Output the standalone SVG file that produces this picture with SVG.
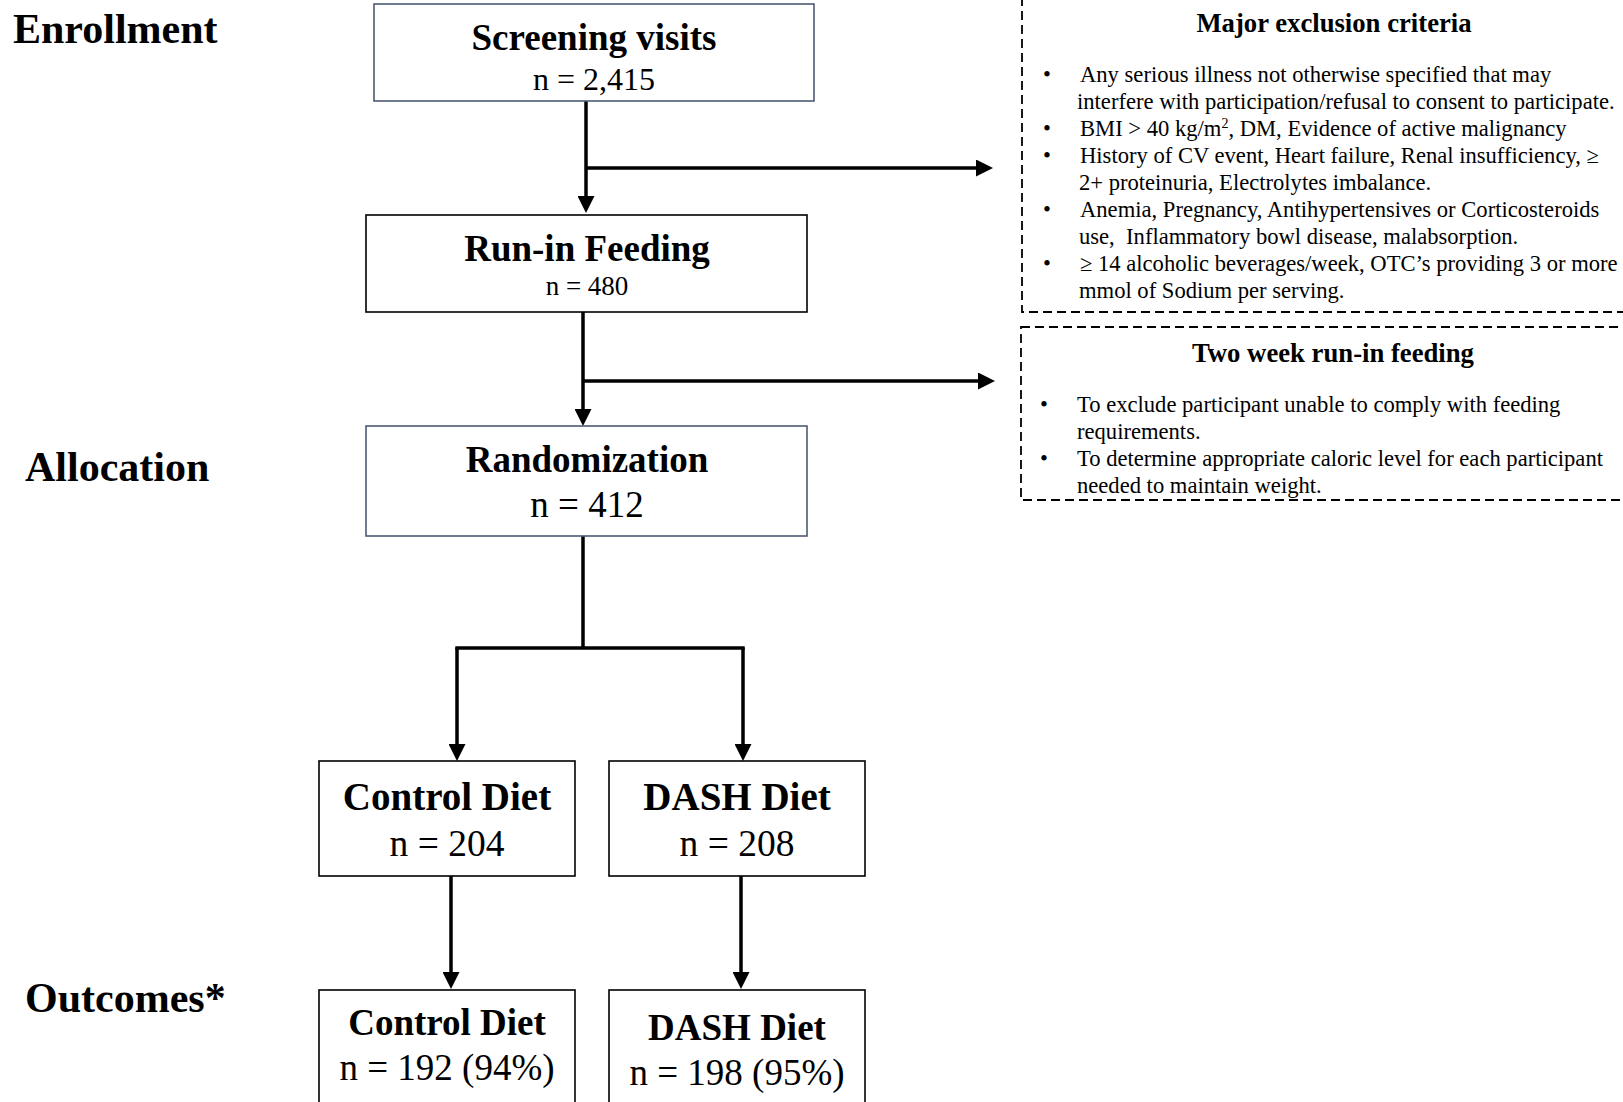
<svg xmlns="http://www.w3.org/2000/svg" width="1623" height="1102" viewBox="0 0 1623 1102">
<style>
.bg{fill:#ffffff}
.box{fill:#ffffff;stroke:#000000;stroke-width:1.6}
.sbox{fill:#ffffff;stroke:#4d5b75;stroke-width:1.6}
.dash{fill:none;stroke:#000000;stroke-width:1.8;stroke-dasharray:9 5}
.conn{fill:none;stroke:#000000;stroke-width:3.5}
.hd{font-family:"Liberation Serif","Times New Roman",serif;font-weight:bold;fill:#000}
.tx{font-family:"Liberation Serif","Times New Roman",serif;fill:#000}
.stage{font-family:"Liberation Serif","Times New Roman",serif;font-weight:bold;font-size:42px;fill:#000}
.bl{font-family:"Liberation Serif","Times New Roman",serif;font-size:22.6px;fill:#000}
.bh{font-family:"Liberation Serif","Times New Roman",serif;font-weight:bold;font-size:26.7px;fill:#000}
</style>
<defs>
<marker id="arr" markerUnits="userSpaceOnUse" markerWidth="17" markerHeight="17" refX="0" refY="8.5" orient="auto">
<path d="M0,0 L17,8.5 L0,17 z" fill="#000"/>
</marker>
</defs>
<rect class="bg" x="0" y="0" width="1623" height="1102"/>

<g id="stage-labels">
<text class="stage" x="13" y="43">Enrollment</text>
<text class="stage" x="25" y="481">Allocation</text>
<text class="stage" x="25" y="1012">Outcomes*</text>
</g>

<g id="connectors">
<line class="conn" x1="586" y1="101" x2="586" y2="196" marker-end="url(#arr)"/>
<line class="conn" x1="586" y1="168" x2="976" y2="168" marker-end="url(#arr)"/>
<line class="conn" x1="583" y1="312" x2="583" y2="409" marker-end="url(#arr)"/>
<line class="conn" x1="583" y1="381" x2="978" y2="381" marker-end="url(#arr)"/>
<polyline class="conn" points="583,536 583,648"/>
<line class="conn" x1="455.25" y1="648" x2="744.75" y2="648"/>
<line class="conn" x1="457" y1="648" x2="457" y2="744" marker-end="url(#arr)"/>
<line class="conn" x1="743" y1="648" x2="743" y2="744" marker-end="url(#arr)"/>
<line class="conn" x1="451" y1="876" x2="451" y2="972" marker-end="url(#arr)"/>
<line class="conn" x1="741" y1="876" x2="741" y2="972" marker-end="url(#arr)"/>
</g>

<g id="screening">
<rect class="sbox" x="374" y="4" width="440" height="97"/>
<text class="hd" x="594" y="50" font-size="37" text-anchor="middle">Screening visits</text>
<text class="tx" x="594" y="90" font-size="32" text-anchor="middle">n = 2,415</text>
</g>

<g id="runin">
<rect class="box" x="366" y="215" width="441" height="97"/>
<text class="hd" x="587" y="261" font-size="37" text-anchor="middle">Run-in Feeding</text>
<text class="tx" x="587" y="295" font-size="27" text-anchor="middle">n = 480</text>
</g>

<g id="randomization">
<rect class="sbox" x="366" y="426" width="441" height="110"/>
<text class="hd" x="587" y="472" font-size="37" text-anchor="middle">Randomization</text>
<text class="tx" x="587" y="517" font-size="37" text-anchor="middle">n = 412</text>
</g>

<g id="control-alloc">
<rect class="box" x="319" y="761" width="256" height="115"/>
<text class="hd" x="447" y="810" font-size="39" text-anchor="middle">Control Diet</text>
<text class="tx" x="447" y="856" font-size="37.5" text-anchor="middle">n = 204</text>
</g>

<g id="dash-alloc">
<rect class="box" x="609" y="761" width="256" height="115"/>
<text class="hd" x="737" y="810" font-size="39" text-anchor="middle">DASH Diet</text>
<text class="tx" x="737" y="856" font-size="37.5" text-anchor="middle">n = 208</text>
</g>

<g id="control-outcome">
<rect class="box" x="319" y="990" width="256" height="130"/>
<text class="hd" x="447" y="1035" font-size="37" text-anchor="middle">Control Diet</text>
<text class="tx" x="447" y="1080" font-size="37" text-anchor="middle">n = 192 (94%)</text>
</g>

<g id="dash-outcome">
<rect class="box" x="609" y="990" width="256" height="130"/>
<text class="hd" x="737" y="1040" font-size="37" text-anchor="middle">DASH Diet</text>
<text class="tx" x="737" y="1085" font-size="37" text-anchor="middle">n = 198 (95%)</text>
</g>

<g id="exclusion-criteria">
<rect class="dash" x="1022" y="-20" width="640" height="332"/>
<text class="bh" x="1334" y="32" text-anchor="middle">Major exclusion criteria</text>
<g class="bl">
<text x="1043" y="82">•</text>
<text x="1080" y="82">Any serious illness not otherwise specified that may</text>
<text x="1077" y="109">interfere with participation/refusal to consent to participate.</text>
<text x="1043" y="136">•</text>
<text x="1080" y="136">BMI &gt; 40 kg/m<tspan font-size="14" dy="-8">2</tspan><tspan dy="8">, DM, Evidence of active malignancy</tspan></text>
<text x="1043" y="163">•</text>
<text x="1080" y="163">History of CV event, Heart failure, Renal insufficiency, ≥</text>
<text x="1079" y="190">2+ proteinuria, Electrolytes imbalance.</text>
<text x="1043" y="217">•</text>
<text x="1080" y="217">Anemia, Pregnancy, Antihypertensives or Corticosteroids</text>
<text x="1079" y="244" xml:space="preserve">use,  Inflammatory bowl disease, malabsorption.</text>
<text x="1043" y="271">•</text>
<text x="1080" y="271">≥ 14 alcoholic beverages/week, OTC’s providing 3 or more</text>
<text x="1079" y="298">mmol of Sodium per serving.</text>
</g>
</g>

<g id="runin-purpose">
<rect class="dash" x="1021" y="327" width="640" height="173"/>
<text class="bh" x="1333" y="362" text-anchor="middle">Two week run-in feeding</text>
<g class="bl">
<text x="1040" y="412">•</text>
<text x="1077" y="412">To exclude participant unable to comply with feeding</text>
<text x="1077" y="439">requirements.</text>
<text x="1040" y="466">•</text>
<text x="1077" y="466">To determine appropriate caloric level for each participant</text>
<text x="1077" y="493">needed to maintain weight.</text>
</g>
</g>
</svg>
